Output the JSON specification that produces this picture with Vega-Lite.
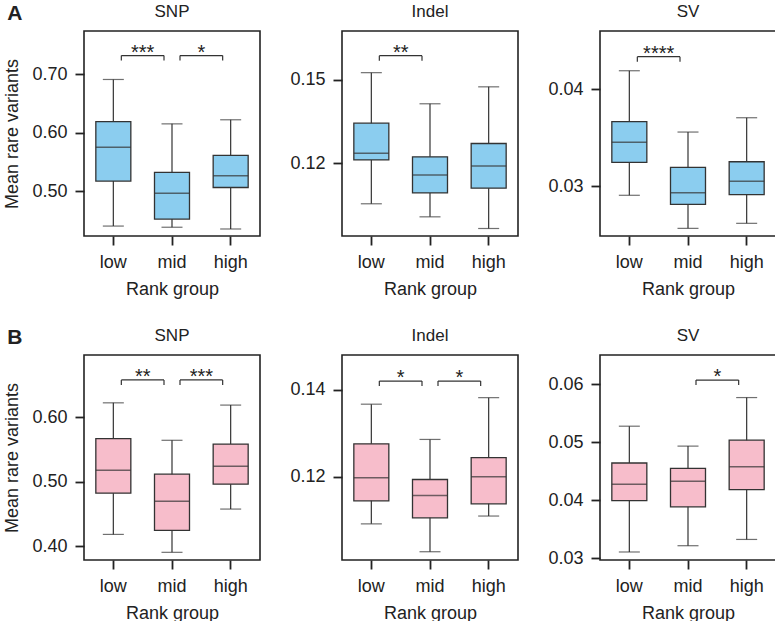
{
  "$schema": "https://vega.github.io/schema/vega-lite/v6.json",
  "padding": {"left": 3, "top": 2, "right": 2, "bottom": 0},
  "background": "white",
  "datasets": {
    "boxes": [
      {"set": "A", "type": "SNP", "group": "low", "min": 0.440, "q1": 0.517, "median": 0.575, "q3": 0.619, "max": 0.691},
      {"set": "A", "type": "SNP", "group": "mid", "min": 0.438, "q1": 0.452, "median": 0.496, "q3": 0.532, "max": 0.615},
      {"set": "A", "type": "SNP", "group": "high", "min": 0.435, "q1": 0.506, "median": 0.526, "q3": 0.561, "max": 0.622},
      {"set": "A", "type": "Indel", "group": "low", "min": 0.1054, "q1": 0.1212, "median": 0.1236, "q3": 0.1344, "max": 0.1526},
      {"set": "A", "type": "Indel", "group": "mid", "min": 0.1007, "q1": 0.1093, "median": 0.1158, "q3": 0.1223, "max": 0.1414},
      {"set": "A", "type": "Indel", "group": "high", "min": 0.0965, "q1": 0.1110, "median": 0.1190, "q3": 0.1271, "max": 0.1475},
      {"set": "A", "type": "SV", "group": "low", "min": 0.02904, "q1": 0.03245, "median": 0.03452, "q3": 0.03665, "max": 0.04192},
      {"set": "A", "type": "SV", "group": "mid", "min": 0.02562, "q1": 0.02811, "median": 0.02931, "q3": 0.03193, "max": 0.03558},
      {"set": "A", "type": "SV", "group": "high", "min": 0.02614, "q1": 0.0291, "median": 0.03049, "q3": 0.03251, "max": 0.03706},
      {"set": "B", "type": "SNP", "group": "low", "min": 0.418, "q1": 0.482, "median": 0.5176, "q3": 0.5665, "max": 0.6221},
      {"set": "B", "type": "SNP", "group": "mid", "min": 0.3902, "q1": 0.4242, "median": 0.4696, "q3": 0.5114, "max": 0.564},
      {"set": "B", "type": "SNP", "group": "high", "min": 0.4573, "q1": 0.4959, "median": 0.5238, "q3": 0.5582, "max": 0.6186},
      {"set": "B", "type": "Indel", "group": "low", "min": 0.1092, "q1": 0.1145, "median": 0.1198, "q3": 0.1276, "max": 0.1367},
      {"set": "B", "type": "Indel", "group": "mid", "min": 0.1028, "q1": 0.1106, "median": 0.1157, "q3": 0.1194, "max": 0.1286},
      {"set": "B", "type": "Indel", "group": "high", "min": 0.1110, "q1": 0.1138, "median": 0.1200, "q3": 0.1244, "max": 0.1382},
      {"set": "B", "type": "SV", "group": "low", "min": 0.03108, "q1": 0.03993, "median": 0.04274, "q3": 0.0464, "max": 0.05274},
      {"set": "B", "type": "SV", "group": "mid", "min": 0.03216, "q1": 0.03885, "median": 0.04326, "q3": 0.04549, "max": 0.04931},
      {"set": "B", "type": "SV", "group": "high", "min": 0.03324, "q1": 0.04182, "median": 0.04576, "q3": 0.05034, "max": 0.05767}
    ],
    "sig": [
      {"set": "A", "type": "SNP", "from": "low", "to": "mid", "y": 0.732, "label": "***"},
      {"set": "A", "type": "SNP", "from": "mid", "to": "high", "y": 0.732, "label": "*"},
      {"set": "A", "type": "Indel", "from": "low", "to": "mid", "y": 0.1587, "label": "**"},
      {"set": "A", "type": "SV", "from": "low", "to": "mid", "y": 0.04337, "label": "****"},
      {"set": "B", "type": "SNP", "from": "low", "to": "mid", "y": 0.6577, "label": "**"},
      {"set": "B", "type": "SNP", "from": "mid", "to": "high", "y": 0.6577, "label": "***"},
      {"set": "B", "type": "Indel", "from": "low", "to": "mid", "y": 0.142, "label": "*"},
      {"set": "B", "type": "Indel", "from": "mid", "to": "high", "y": 0.142, "label": "*"},
      {"set": "B", "type": "SV", "from": "mid", "to": "high", "y": 0.06069, "label": "*"}
    ]
  },
  "vconcat": [
    {
      "title": {"text": "A", "anchor": "start", "frame": "bounds", "fontSize": 21, "fontWeight": "bold", "offset": -22, "dx": 4},
      "hconcat": [
        {
          "title": "SNP", "width": 176, "height": 205,
          "layer": [
            {
              "data": {"name": "boxes"},
              "transform": [{"filter": "datum.set === 'A' && datum.type === 'SNP'"}],
              "encoding": {"x": {"field": "group", "type": "nominal", "scale": {"type": "band", "domain": ["low", "mid", "high"], "paddingInner": 0, "paddingOuter": 0}, "title": "Rank group"}},
              "layer": [
                {"mark": "rule", "encoding": {"y": {"field": "min", "type": "quantitative", "scale": {"domain": [0.423, 0.774], "zero": false, "nice": false}, "axis": {"values": [0.5, 0.6, 0.7], "format": ".2f"}, "title": "Mean rare variants"}, "y2": {"field": "max"}}},
                {"mark": {"type": "bar", "size": 35, "fill": "#8BCDEF", "stroke": "#333", "strokeWidth": 1.3}, "encoding": {"y": {"field": "q1", "type": "quantitative", "title": "Mean rare variants"}, "y2": {"field": "q3"}}},
                {"mark": {"type": "tick", "size": 35, "thickness": 1.5}, "encoding": {"y": {"field": "median", "type": "quantitative", "title": "Mean rare variants"}}},
                {"mark": {"type": "tick", "size": 21, "thickness": 1.2}, "encoding": {"y": {"field": "min", "type": "quantitative", "title": "Mean rare variants"}}},
                {"mark": {"type": "tick", "size": 21, "thickness": 1.2}, "encoding": {"y": {"field": "max", "type": "quantitative", "title": "Mean rare variants"}}}
              ]
            },
            {
              "data": {"name": "sig"},
              "transform": [{"filter": "datum.set === 'A' && datum.type === 'SNP'"}],
              "encoding": {"x": {"field": "from", "type": "nominal", "title": "Rank group"}, "y": {"field": "y", "type": "quantitative", "title": "Mean rare variants"}},
              "layer": [
                {"mark": {"type": "rule", "xOffset": 8, "x2Offset": -8}, "encoding": {"x2": {"field": "to"}}},
                {"mark": {"type": "rule", "xOffset": 8, "y2Offset": 5}, "encoding": {"y2": {"field": "y"}}},
                {"mark": {"type": "rule", "xOffset": -8, "y2Offset": 5}, "encoding": {"x": {"field": "to", "type": "nominal", "title": "Rank group"}, "y2": {"field": "y"}}},
                {"mark": {"type": "text", "xOffset": 29.33, "dy": 3, "fontSize": 20, "baseline": "alphabetic"}, "encoding": {"text": {"field": "label"}}}
              ]
            }
          ]
        },
        {
          "title": "Indel", "width": 176, "height": 205,
          "layer": [
            {
              "data": {"name": "boxes"},
              "transform": [{"filter": "datum.set === 'A' && datum.type === 'Indel'"}],
              "encoding": {"x": {"field": "group", "type": "nominal", "scale": {"type": "band", "domain": ["low", "mid", "high"], "paddingInner": 0, "paddingOuter": 0}, "title": "Rank group"}},
              "layer": [
                {"mark": "rule", "encoding": {"y": {"field": "min", "type": "quantitative", "scale": {"domain": [0.0938, 0.1676], "zero": false, "nice": false}, "axis": {"values": [0.12, 0.15], "format": ".2f"}, "title": null}, "y2": {"field": "max"}}},
                {"mark": {"type": "bar", "size": 35, "fill": "#8BCDEF", "stroke": "#333", "strokeWidth": 1.3}, "encoding": {"y": {"field": "q1", "type": "quantitative", "title": null}, "y2": {"field": "q3"}}},
                {"mark": {"type": "tick", "size": 35, "thickness": 1.5}, "encoding": {"y": {"field": "median", "type": "quantitative", "title": null}}},
                {"mark": {"type": "tick", "size": 21, "thickness": 1.2}, "encoding": {"y": {"field": "min", "type": "quantitative", "title": null}}},
                {"mark": {"type": "tick", "size": 21, "thickness": 1.2}, "encoding": {"y": {"field": "max", "type": "quantitative", "title": null}}}
              ]
            },
            {
              "data": {"name": "sig"},
              "transform": [{"filter": "datum.set === 'A' && datum.type === 'Indel'"}],
              "encoding": {"x": {"field": "from", "type": "nominal", "title": "Rank group"}, "y": {"field": "y", "type": "quantitative", "title": null}},
              "layer": [
                {"mark": {"type": "rule", "xOffset": 8, "x2Offset": -8}, "encoding": {"x2": {"field": "to"}}},
                {"mark": {"type": "rule", "xOffset": 8, "y2Offset": 5}, "encoding": {"y2": {"field": "y"}}},
                {"mark": {"type": "rule", "xOffset": -8, "y2Offset": 5}, "encoding": {"x": {"field": "to", "type": "nominal", "title": "Rank group"}, "y2": {"field": "y"}}},
                {"mark": {"type": "text", "xOffset": 29.33, "dy": 3, "fontSize": 20, "baseline": "alphabetic"}, "encoding": {"text": {"field": "label"}}}
              ]
            }
          ]
        },
        {
          "title": "SV", "width": 176, "height": 205,
          "layer": [
            {
              "data": {"name": "boxes"},
              "transform": [{"filter": "datum.set === 'A' && datum.type === 'SV'"}],
              "encoding": {"x": {"field": "group", "type": "nominal", "scale": {"type": "band", "domain": ["low", "mid", "high"], "paddingInner": 0, "paddingOuter": 0}, "title": "Rank group"}},
              "layer": [
                {"mark": "rule", "encoding": {"y": {"field": "min", "type": "quantitative", "scale": {"domain": [0.02483, 0.04603], "zero": false, "nice": false}, "axis": {"values": [0.03, 0.04], "format": ".2f"}, "title": null}, "y2": {"field": "max"}}},
                {"mark": {"type": "bar", "size": 35, "fill": "#8BCDEF", "stroke": "#333", "strokeWidth": 1.3}, "encoding": {"y": {"field": "q1", "type": "quantitative", "title": null}, "y2": {"field": "q3"}}},
                {"mark": {"type": "tick", "size": 35, "thickness": 1.5}, "encoding": {"y": {"field": "median", "type": "quantitative", "title": null}}},
                {"mark": {"type": "tick", "size": 21, "thickness": 1.2}, "encoding": {"y": {"field": "min", "type": "quantitative", "title": null}}},
                {"mark": {"type": "tick", "size": 21, "thickness": 1.2}, "encoding": {"y": {"field": "max", "type": "quantitative", "title": null}}}
              ]
            },
            {
              "data": {"name": "sig"},
              "transform": [{"filter": "datum.set === 'A' && datum.type === 'SV'"}],
              "encoding": {"x": {"field": "from", "type": "nominal", "title": "Rank group"}, "y": {"field": "y", "type": "quantitative", "title": null}},
              "layer": [
                {"mark": {"type": "rule", "xOffset": 8, "x2Offset": -8}, "encoding": {"x2": {"field": "to"}}},
                {"mark": {"type": "rule", "xOffset": 8, "y2Offset": 5}, "encoding": {"y2": {"field": "y"}}},
                {"mark": {"type": "rule", "xOffset": -8, "y2Offset": 5}, "encoding": {"x": {"field": "to", "type": "nominal", "title": "Rank group"}, "y2": {"field": "y"}}},
                {"mark": {"type": "text", "xOffset": 29.33, "dy": 3, "fontSize": 20, "baseline": "alphabetic"}, "encoding": {"text": {"field": "label"}}}
              ]
            }
          ]
        }
      ]
    },
    {
      "title": {"text": "B", "anchor": "start", "frame": "bounds", "fontSize": 21, "fontWeight": "bold", "offset": -22, "dx": 4},
      "hconcat": [
        {
          "title": "SNP", "width": 176, "height": 205,
          "layer": [
            {
              "data": {"name": "boxes"},
              "transform": [{"filter": "datum.set === 'B' && datum.type === 'SNP'"}],
              "encoding": {"x": {"field": "group", "type": "nominal", "scale": {"type": "band", "domain": ["low", "mid", "high"], "paddingInner": 0, "paddingOuter": 0}, "title": "Rank group"}},
              "layer": [
                {"mark": "rule", "encoding": {"y": {"field": "min", "type": "quantitative", "scale": {"domain": [0.3783, 0.6963], "zero": false, "nice": false}, "axis": {"values": [0.4, 0.5, 0.6], "format": ".2f"}, "title": "Mean rare variants"}, "y2": {"field": "max"}}},
                {"mark": {"type": "bar", "size": 35, "fill": "#F7BDCB", "stroke": "#333", "strokeWidth": 1.3}, "encoding": {"y": {"field": "q1", "type": "quantitative", "title": "Mean rare variants"}, "y2": {"field": "q3"}}},
                {"mark": {"type": "tick", "size": 35, "thickness": 1.5}, "encoding": {"y": {"field": "median", "type": "quantitative", "title": "Mean rare variants"}}},
                {"mark": {"type": "tick", "size": 21, "thickness": 1.2}, "encoding": {"y": {"field": "min", "type": "quantitative", "title": "Mean rare variants"}}},
                {"mark": {"type": "tick", "size": 21, "thickness": 1.2}, "encoding": {"y": {"field": "max", "type": "quantitative", "title": "Mean rare variants"}}}
              ]
            },
            {
              "data": {"name": "sig"},
              "transform": [{"filter": "datum.set === 'B' && datum.type === 'SNP'"}],
              "encoding": {"x": {"field": "from", "type": "nominal", "title": "Rank group"}, "y": {"field": "y", "type": "quantitative", "title": "Mean rare variants"}},
              "layer": [
                {"mark": {"type": "rule", "xOffset": 8, "x2Offset": -8}, "encoding": {"x2": {"field": "to"}}},
                {"mark": {"type": "rule", "xOffset": 8, "y2Offset": 5}, "encoding": {"y2": {"field": "y"}}},
                {"mark": {"type": "rule", "xOffset": -8, "y2Offset": 5}, "encoding": {"x": {"field": "to", "type": "nominal", "title": "Rank group"}, "y2": {"field": "y"}}},
                {"mark": {"type": "text", "xOffset": 29.33, "dy": 3, "fontSize": 20, "baseline": "alphabetic"}, "encoding": {"text": {"field": "label"}}}
              ]
            }
          ]
        },
        {
          "title": "Indel", "width": 176, "height": 205,
          "layer": [
            {
              "data": {"name": "boxes"},
              "transform": [{"filter": "datum.set === 'B' && datum.type === 'Indel'"}],
              "encoding": {"x": {"field": "group", "type": "nominal", "scale": {"type": "band", "domain": ["low", "mid", "high"], "paddingInner": 0, "paddingOuter": 0}, "title": "Rank group"}},
              "layer": [
                {"mark": "rule", "encoding": {"y": {"field": "min", "type": "quantitative", "scale": {"domain": [0.1009, 0.148], "zero": false, "nice": false}, "axis": {"values": [0.12, 0.14], "format": ".2f"}, "title": null}, "y2": {"field": "max"}}},
                {"mark": {"type": "bar", "size": 35, "fill": "#F7BDCB", "stroke": "#333", "strokeWidth": 1.3}, "encoding": {"y": {"field": "q1", "type": "quantitative", "title": null}, "y2": {"field": "q3"}}},
                {"mark": {"type": "tick", "size": 35, "thickness": 1.5}, "encoding": {"y": {"field": "median", "type": "quantitative", "title": null}}},
                {"mark": {"type": "tick", "size": 21, "thickness": 1.2}, "encoding": {"y": {"field": "min", "type": "quantitative", "title": null}}},
                {"mark": {"type": "tick", "size": 21, "thickness": 1.2}, "encoding": {"y": {"field": "max", "type": "quantitative", "title": null}}}
              ]
            },
            {
              "data": {"name": "sig"},
              "transform": [{"filter": "datum.set === 'B' && datum.type === 'Indel'"}],
              "encoding": {"x": {"field": "from", "type": "nominal", "title": "Rank group"}, "y": {"field": "y", "type": "quantitative", "title": null}},
              "layer": [
                {"mark": {"type": "rule", "xOffset": 8, "x2Offset": -8}, "encoding": {"x2": {"field": "to"}}},
                {"mark": {"type": "rule", "xOffset": 8, "y2Offset": 5}, "encoding": {"y2": {"field": "y"}}},
                {"mark": {"type": "rule", "xOffset": -8, "y2Offset": 5}, "encoding": {"x": {"field": "to", "type": "nominal", "title": "Rank group"}, "y2": {"field": "y"}}},
                {"mark": {"type": "text", "xOffset": 29.33, "dy": 3, "fontSize": 20, "baseline": "alphabetic"}, "encoding": {"text": {"field": "label"}}}
              ]
            }
          ]
        },
        {
          "title": "SV", "width": 176, "height": 205,
          "layer": [
            {
              "data": {"name": "boxes"},
              "transform": [{"filter": "datum.set === 'B' && datum.type === 'SV'"}],
              "encoding": {"x": {"field": "group", "type": "nominal", "scale": {"type": "band", "domain": ["low", "mid", "high"], "paddingInner": 0, "paddingOuter": 0}, "title": "Rank group"}},
              "layer": [
                {"mark": "rule", "encoding": {"y": {"field": "min", "type": "quantitative", "scale": {"domain": [0.0297, 0.065], "zero": false, "nice": false}, "axis": {"values": [0.03, 0.04, 0.05, 0.06], "format": ".2f"}, "title": null}, "y2": {"field": "max"}}},
                {"mark": {"type": "bar", "size": 35, "fill": "#F7BDCB", "stroke": "#333", "strokeWidth": 1.3}, "encoding": {"y": {"field": "q1", "type": "quantitative", "title": null}, "y2": {"field": "q3"}}},
                {"mark": {"type": "tick", "size": 35, "thickness": 1.5}, "encoding": {"y": {"field": "median", "type": "quantitative", "title": null}}},
                {"mark": {"type": "tick", "size": 21, "thickness": 1.2}, "encoding": {"y": {"field": "min", "type": "quantitative", "title": null}}},
                {"mark": {"type": "tick", "size": 21, "thickness": 1.2}, "encoding": {"y": {"field": "max", "type": "quantitative", "title": null}}}
              ]
            },
            {
              "data": {"name": "sig"},
              "transform": [{"filter": "datum.set === 'B' && datum.type === 'SV'"}],
              "encoding": {"x": {"field": "from", "type": "nominal", "title": "Rank group"}, "y": {"field": "y", "type": "quantitative", "title": null}},
              "layer": [
                {"mark": {"type": "rule", "xOffset": 8, "x2Offset": -8}, "encoding": {"x2": {"field": "to"}}},
                {"mark": {"type": "rule", "xOffset": 8, "y2Offset": 5}, "encoding": {"y2": {"field": "y"}}},
                {"mark": {"type": "rule", "xOffset": -8, "y2Offset": 5}, "encoding": {"x": {"field": "to", "type": "nominal", "title": "Rank group"}, "y2": {"field": "y"}}},
                {"mark": {"type": "text", "xOffset": 29.33, "dy": 3, "fontSize": 20, "baseline": "alphabetic"}, "encoding": {"text": {"field": "label"}}}
              ]
            }
          ]
        }
      ]
    }
  ],
  "spacing": 27,
  "config": {
    "font": "Liberation Sans",
    "view": {"stroke": "#222", "strokeWidth": 1.6},
    "concat": {"spacing": 28},
    "axis": {"domain": false, "grid": false, "tickColor": "#222", "tickSize": 9, "tickWidth": 1.8, "labelFontSize": 18, "labelColor": "#222", "titleFontSize": 18, "titleFontWeight": "normal", "titleColor": "#222"},
    "axisX": {"labelAngle": 0, "labelPadding": 8, "titlePadding": 9},
    "axisY": {"labelPadding": 8, "titlePadding": 10},
    "title": {"fontSize": 17, "fontWeight": "normal", "offset": 10, "color": "#222"},
    "rule": {"color": "#333", "strokeWidth": 1.2},
    "tick": {"color": "#333"},
    "text": {"color": "#222"}
  }
}
